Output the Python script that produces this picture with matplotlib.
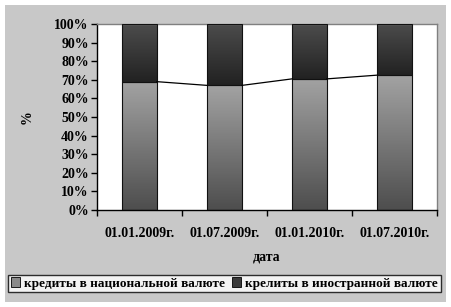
import matplotlib.pyplot as plt
import numpy as np
from matplotlib.patches import Rectangle, Patch
from matplotlib.colors import LinearSegmentedColormap

# данные
dates = ['01.01.2009г.', '01.07.2009г.', '01.01.2010г.', '01.07.2010г.']
national = [69, 67, 70.5, 72.5]       # кредиты в национальной валюте, %
foreign = [31, 33, 29.5, 27.5]        # крелиты в иностранной валюте, %
series_names = ['кредиты в национальной валюте', 'крелиты в иностранной валюте']

plt.rcParams['font.family'] = ['Liberation Serif', 'DejaVu Serif']
plt.rcParams['font.weight'] = 'bold'

fig = plt.figure(figsize=(4.51, 3.07), dpi=100)
fig.patch.set_facecolor('white')
# серая подложка диаграммы
fig.patches.append(Rectangle((5 / 451, 5 / 307), 441 / 451, 297 / 307,
                             transform=fig.transFigure, facecolor='#c8c8c8',
                             edgecolor='none', zorder=-10))

ax = fig.add_axes([97 / 451, 97 / 307, 340 / 451, 186 / 307])
ax.set_facecolor('white')

x = np.arange(len(dates))
w = 0.41
cm_low = LinearSegmentedColormap.from_list('low', ['#4e4e4e', '#a2a2a2'])
cm_high = LinearSegmentedColormap.from_list('high', ['#222222', '#4c4c4c'])
grad = np.linspace(0, 1, 64).reshape(-1, 1)

for i in range(len(dates)):
    b1 = national[i]
    b2 = national[i] + foreign[i]
    ax.imshow(grad, cmap=cm_low, origin='lower', aspect='auto',
              extent=(x[i] - w / 2, x[i] + w / 2, 0, b1), zorder=2)
    ax.imshow(grad, cmap=cm_high, origin='lower', aspect='auto',
              extent=(x[i] - w / 2, x[i] + w / 2, b1, b2), zorder=2)
ax.bar(x, national, w, facecolor='none', edgecolor='#111111', linewidth=0.8, zorder=3)
ax.bar(x, foreign, w, bottom=national, facecolor='none', edgecolor='#111111',
       linewidth=0.8, zorder=3)

# соединительные линии рядов
for i in range(len(dates) - 1):
    ax.plot([x[i] + w / 2, x[i + 1] - w / 2], [national[i], national[i + 1]],
            color='black', linewidth=0.9, zorder=3)

ax.set_xlim(-0.5, len(dates) - 0.5)
ax.set_ylim(0, 100)
ax.set_yticks(np.arange(0, 101, 10))
ax.set_yticklabels([f'{v}%' for v in range(0, 101, 10)], fontsize=10, fontweight='bold')
ax.set_xticks(x)
ax.set_xticklabels(dates, fontsize=10, fontweight='bold')
ax.set_xticks(np.arange(len(dates) + 1) - 0.5, minor=True)
ax.tick_params(axis='x', which='major', length=0, pad=12)
ax.tick_params(axis='x', which='minor', length=4, width=1)
ax.tick_params(axis='y', length=4, width=1, pad=2)

for s in ['left', 'bottom']:
    ax.spines[s].set_color('black')
    ax.spines[s].set_linewidth(1)
for s in ['top', 'right']:
    ax.spines[s].set_color('#808080')
    ax.spines[s].set_linewidth(1)

ax.set_ylabel('%', fontsize=10, fontweight='bold', labelpad=15)
ax.set_xlabel('дата', fontsize=10, fontweight='bold', labelpad=8)

handles = [Patch(facecolor='#8a8a8a', edgecolor='black', linewidth=0.6),
           Patch(facecolor='#3a3a3a', edgecolor='black', linewidth=0.6)]
leg = fig.legend(handles, series_names, loc='center', ncol=2,
                 bbox_to_anchor=(224.5 / 451, 1 - 283.5 / 307),
                 prop={'size': 9.5, 'weight': 'bold'}, frameon=True, fancybox=False,
                 handlelength=0.7, handleheight=0.7, handletextpad=0.3,
                 columnspacing=0.5, borderpad=0.2, borderaxespad=0)
leg.get_frame().set_edgecolor('black')
leg.get_frame().set_linewidth(1)
leg.get_frame().set_facecolor('white')

plt.savefig('out.png', dpi=100)
